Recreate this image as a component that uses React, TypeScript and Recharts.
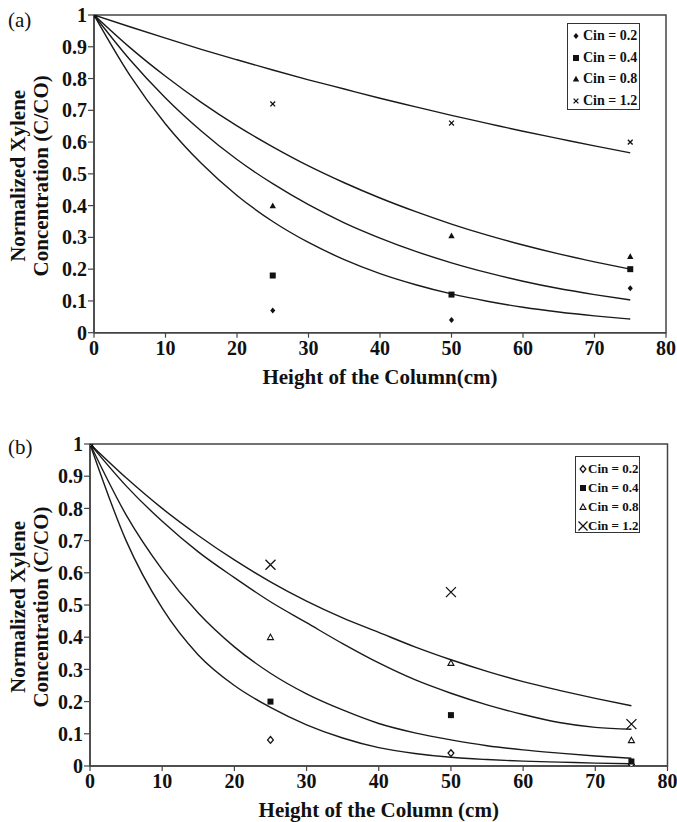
import React from "react";
import {
  ComposedChart,
  Line,
  Scatter,
  XAxis,
  YAxis,
  ReferenceArea,
  Legend,
} from "recharts";

// ---------- data ----------
const xTicks = [0, 10, 20, 30, 40, 50, 60, 70, 80];
const yTicks = [0, 0.1, 0.2, 0.3, 0.4, 0.5, 0.6, 0.7, 0.8, 0.9, 1];
const seriesLabels = ["Cin = 0.2", "Cin = 0.4", "Cin = 0.8", "Cin = 1.2"];

// measured column heights
const heights = [0, 25, 50, 75];

// panel (a) measurements
const aCin02 = [1, 0.07, 0.04, 0.14];
const aCin04 = [1, 0.18, 0.12, 0.2];
const aCin08 = [1, 0.4, 0.305, 0.24];
const aCin12 = [1, 0.72, 0.66, 0.6];

// panel (b) measurements
const bCin02 = [1, 0.081, 0.04, 0.005];
const bCin04 = [1, 0.2, 0.158, 0.014];
const bCin08 = [1, 0.4, 0.32, 0.08];
const bCin12 = [1, 0.625, 0.54, 0.13];

// model curves
const curveX = [0, 5, 10, 15, 20, 25, 30, 35, 40, 45, 50, 55, 60, 65, 70, 75];
const aCurve1 = [1, 0.963, 0.927, 0.892, 0.859, 0.827, 0.796, 0.767, 0.738, 0.711, 0.684, 0.659, 0.634, 0.611, 0.588, 0.566];
const aCurve2 = [1, 0.898, 0.807, 0.725, 0.651, 0.585, 0.525, 0.472, 0.424, 0.381, 0.342, 0.307, 0.276, 0.248, 0.223, 0.2];
const aCurve3 = [1, 0.86, 0.739, 0.635, 0.545, 0.469, 0.403, 0.346, 0.298, 0.256, 0.22, 0.189, 0.162, 0.139, 0.12, 0.103];
const aCurve4 = [1, 0.811, 0.657, 0.533, 0.432, 0.35, 0.284, 0.23, 0.186, 0.151, 0.122, 0.099, 0.08, 0.065, 0.053, 0.043];

const bCurve1 = [1, 0.895, 0.8, 0.716, 0.64, 0.572, 0.512, 0.46, 0.415, 0.37, 0.33, 0.294, 0.262, 0.235, 0.21, 0.187];
const bCurve2 = [1, 0.87, 0.76, 0.665, 0.585, 0.51, 0.445, 0.38, 0.32, 0.268, 0.226, 0.19, 0.16, 0.135, 0.12, 0.114];
const bCurve3 = [1, 0.78, 0.61, 0.475, 0.37, 0.288, 0.224, 0.174, 0.132, 0.103, 0.081, 0.063, 0.05, 0.04, 0.031, 0.024];
const bCurve4 = [1, 0.7, 0.49, 0.345, 0.25, 0.182, 0.128, 0.087, 0.057, 0.039, 0.027, 0.02, 0.015, 0.012, 0.009, 0.007];

// ---------- helpers ----------
const FONT = "'Liberation Serif', 'Times New Roman', serif";
const INK = "#111";
const FRAME = "#444";

const toPoints = (ys: number[]) => heights.map((x, i) => ({ x, y: ys[i] }));
const toCurves = (c1: number[], c2: number[], c3: number[], c4: number[]) =>
  curveX.map((x, i) => ({ x, c1: c1[i], c2: c2[i], c3: c3[i], c4: c4[i] }));

type MK = "fdiamond" | "odiamond" | "square" | "ftriangle" | "otriangle" | "xsmall" | "xbig";

const Marker = ({ kind, cx, cy, s = 1 }: { kind: MK; cx: number; cy: number; s?: number }) => {
  switch (kind) {
    case "fdiamond": {
      const r = 3 * s;
      return <path d={`M${cx},${cy - r}L${cx + r * 0.85},${cy}L${cx},${cy + r}L${cx - r * 0.85},${cy}Z`} fill={INK} />;
    }
    case "odiamond": {
      const r = 3.4 * s;
      return (
        <path
          d={`M${cx},${cy - r}L${cx + r * 0.85},${cy}L${cx},${cy + r}L${cx - r * 0.85},${cy}Z`}
          fill="#fff"
          stroke={INK}
          strokeWidth={1.3}
        />
      );
    }
    case "square": {
      const h = 3 * s;
      return <rect x={cx - h} y={cy - h} width={2 * h} height={2 * h} fill={INK} />;
    }
    case "ftriangle": {
      const h = 3.2 * s;
      return <path d={`M${cx},${cy - h}L${cx + h},${cy + h * 0.8}L${cx - h},${cy + h * 0.8}Z`} fill={INK} />;
    }
    case "otriangle": {
      const h = 3 * s;
      return (
        <path
          d={`M${cx},${cy - h}L${cx + h},${cy + h * 0.8}L${cx - h},${cy + h * 0.8}Z`}
          fill="#fff"
          stroke={INK}
          strokeWidth={1.1}
        />
      );
    }
    case "xsmall": {
      const h = 2.4 * s;
      return (
        <path d={`M${cx - h},${cy - h}L${cx + h},${cy + h}M${cx + h},${cy - h}L${cx - h},${cy + h}`} stroke={INK} strokeWidth={1.3} />
      );
    }
    case "xbig": {
      const h = 5 * s;
      return (
        <path d={`M${cx - h},${cy - h}L${cx + h},${cy + h}M${cx + h},${cy - h}L${cx - h},${cy + h}`} stroke={INK} strokeWidth={1.3} />
      );
    }
  }
  return null;
};

const shapeOf = (kind: MK) => (p: any) => <Marker kind={kind} cx={p.cx} cy={p.cy} />;

const renderYTitle = (cy0: number) => (props: any) => {
  const vb = props.viewBox || {};
  const cy = (vb.y ?? 0) + (vb.height ?? 0) / 2 + cy0;
  const style = { fontFamily: FONT, fontWeight: 700, fontSize: 21, fill: INK } as any;
  return (
    <g>
      <text x={17} y={cy} transform={`rotate(-90, 17, ${cy})`} textAnchor="middle" style={style}>
        Normalized Xylene
      </text>
      <text x={40} y={cy} transform={`rotate(-90, 40, ${cy})`} textAnchor="middle" style={style}>
        Concentration (C/CO)
      </text>
    </g>
  );
};

const renderXTitle = (title: string) => (props: any) => {
  const vb = props.viewBox || {};
  const cx = (vb.x ?? 0) + (vb.width ?? 0) / 2;
  const y = (vb.y ?? 0) + 51;
  return (
    <text x={cx} y={y} textAnchor="middle" style={{ fontFamily: FONT, fontWeight: 700, fontSize: 21, fill: INK } as any}>
      {title}
    </text>
  );
};

const makeLegend = (kinds: MK[], opts: { w: number; h: number; rowH: number; top: number; mx: number; tx: number; fs: number }) => () => (
  <div
    style={{
      width: opts.w,
      height: opts.h,
      boxSizing: "border-box",
      border: `1.5px solid #333`,
      background: "#fff",
      position: "relative",
      fontFamily: FONT,
      fontWeight: 700,
      fontSize: opts.fs,
      color: INK,
    }}
  >
    {kinds.map((k, i) => {
      const cyRow = opts.top + i * opts.rowH;
      return (
        <div key={i} style={{ position: "absolute", left: 0, top: cyRow - 10, height: 20, width: opts.w - 3, whiteSpace: "nowrap" }}>
          <svg width={16} height={20} style={{ position: "absolute", left: opts.mx - 8, top: 0 }}>
            <Marker kind={k} cx={8} cy={10} s={k === "xbig" ? 0.9 : 1} />
          </svg>
          <span style={{ position: "absolute", left: opts.tx, top: 0, lineHeight: "20px" }}>{seriesLabels[i]}</span>
        </div>
      );
    })}
  </div>
);

const tickStyle = { fontFamily: FONT, fontWeight: 700, fontSize: 20, fill: INK };

type PanelProps = {
  height: number;
  margin: { top: number; right: number; bottom: number; left: number };
  yWidth: number;
  xHeight: number;
  curves: any[];
  points: number[][];
  kinds: MK[];
  xTitle: string;
  legend: () => React.ReactElement;
  legendPos: { left: number; top: number };
};

const Panel = (p: PanelProps) => (
  <ComposedChart width={669} height={p.height} data={p.curves} margin={p.margin} style={{ overflow: "visible" }}>
    <XAxis
      dataKey="x"
      type="number"
      domain={[0, 80]}
      ticks={xTicks}
      interval={0}
      height={p.xHeight}
      tickSize={5}
      tickMargin={3}
      tick={tickStyle}
      axisLine={{ stroke: FRAME, strokeWidth: 1.5 }}
      tickLine={{ stroke: FRAME, strokeWidth: 1.2 }}
      allowDataOverflow
      label={{ content: renderXTitle(p.xTitle) } as any}
    />
    <YAxis
      type="number"
      domain={[0, 1]}
      ticks={yTicks}
      interval={0}
      width={p.yWidth}
      tickSize={6}
      tickMargin={1}
      tick={tickStyle}
      axisLine={{ stroke: FRAME, strokeWidth: 1.5 }}
      tickLine={{ stroke: FRAME, strokeWidth: 1.2 }}
      allowDataOverflow
      label={{ content: renderYTitle(2) } as any}
    />
    <ReferenceArea x1={0} x2={80} y1={0} y2={1} fill="none" stroke={FRAME} strokeWidth={1.5} ifOverflow="visible" />
    {["c1", "c2", "c3", "c4"].map((k) => (
      <Line
        key={k}
        dataKey={k}
        type="monotone"
        dot={false}
        stroke="#1a1a1a"
        strokeWidth={1.4}
        isAnimationActive={false}
        legendType="none"
      />
    ))}
    {p.points.map((ys, i) => (
      <Scatter
        key={i}
        name={seriesLabels[i]}
        data={toPoints(ys)}
        dataKey="y"
        shape={shapeOf(p.kinds[i])}
        isAnimationActive={false}
      />
    ))}
    <Legend
      content={p.legend}
      layout="vertical"
      align="center"
      verticalAlign="middle"
      wrapperStyle={{ position: "absolute", left: p.legendPos.left, top: p.legendPos.top, width: "auto", height: "auto" }}
    />
  </ComposedChart>
);

const kindsA: MK[] = ["fdiamond", "square", "ftriangle", "xsmall"];
const kindsB: MK[] = ["odiamond", "square", "otriangle", "xbig"];

export default function App() {
  return (
    <div style={{ position: "relative", width: 669, background: "#fff" }}>
      <style>{"html{overflow:hidden;background:#fff} body{margin:8px 0 0 8px} svg.recharts-surface{overflow:visible}"}</style>
      <div style={{ position: "absolute", left: 0, top: 0, fontFamily: FONT, fontSize: 21, color: INK, lineHeight: "24px", zIndex: 2 }}>
        (a)
      </div>
      <div style={{ position: "absolute", left: 0, top: 427, fontFamily: FONT, fontSize: 21, color: INK, lineHeight: "24px", zIndex: 2 }}>
        (b)
      </div>
      <Panel
        height={380}
        margin={{ top: 7, right: 11, bottom: 5, left: 0 }}
        yWidth={86}
        xHeight={50.3}
        curves={toCurves(aCurve1, aCurve2, aCurve3, aCurve4)}
        points={[aCin02, aCin04, aCin08, aCin12]}
        kinds={kindsA}
        xTitle="Height of the Column(cm)"
        legend={makeLegend(kindsA, { w: 73, h: 87, rowH: 21.7, top: 12, mx: 8, tx: 15, fs: 14 })}
        legendPos={{ left: 559, top: 15 }}
      />
      <Panel
        height={440}
        margin={{ top: 56, right: 9.5, bottom: 6, left: 0 }}
        yWidth={82}
        xHeight={56}
        curves={toCurves(bCurve1, bCurve2, bCurve3, bCurve4)}
        points={[bCin02, bCin04, bCin08, bCin12]}
        kinds={kindsB}
        xTitle="Height of the Column (cm)"
        legend={makeLegend(kindsB, { w: 65, h: 77, rowH: 19, top: 11.5, mx: 7, tx: 12, fs: 13 })}
        legendPos={{ left: 567, top: 68 }}
      />
    </div>
  );
}
